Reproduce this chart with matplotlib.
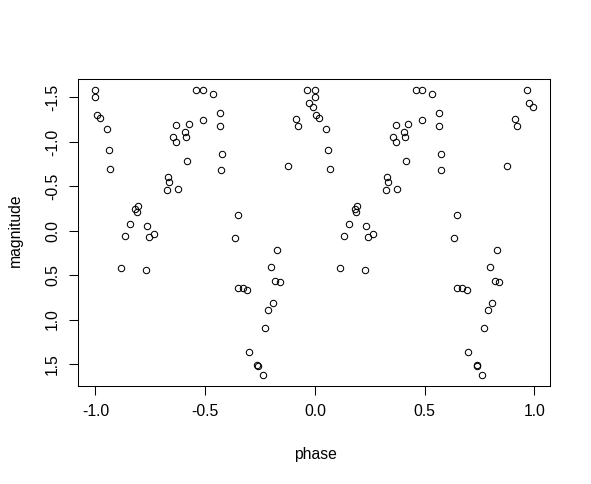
import numpy as np
import matplotlib.pyplot as plt

# folded light curve: phase in [0, 1), plotted twice (phase - 1 and phase)
phase = [0.000, 0.000, 0.005, 0.019, 0.051, 0.060, 0.068, 0.115, 0.133, 0.156,
         0.182, 0.188, 0.193, 0.229, 0.234, 0.243, 0.266, 0.325, 0.329, 0.334,
         0.354, 0.369, 0.369, 0.374, 0.407, 0.412, 0.415, 0.424, 0.460, 0.489,
         0.489, 0.535, 0.565, 0.565, 0.576, 0.574, 0.635, 0.649, 0.649, 0.670,
         0.692, 0.699, 0.738, 0.740, 0.763, 0.772, 0.786, 0.798, 0.808, 0.818,
         0.827, 0.840, 0.877, 0.912, 0.922, 0.964, 0.973, 0.991]
magnitude = [-1.58, -1.51, -1.30, -1.27, -1.15, -0.905, -0.69, 0.417, 0.064, -0.071,
             -0.243, -0.206, -0.277, 0.44, -0.048, 0.072, 0.042, -0.454, -0.60, -0.545,
             -1.055, -1.195, -1.003, -0.466, -1.108, -1.052, -0.79, -1.206, -1.58, -1.58,
             -1.243, -1.537, -1.33, -1.176, -0.86, -0.68, 0.083, -0.18, 0.643, 0.643,
             0.665, 1.364, 1.51, 1.52, 1.62, 1.10, 0.887, 0.406, 0.812, 0.564,
             0.214, 0.575, -0.725, -1.26, -1.176, -1.58, -1.44, -1.39]

plt.rcParams['font.family'] = ['Liberation Sans', 'DejaVu Sans']
plt.rcParams['font.size'] = 11.3

x = np.concatenate([np.array(phase) - 1, np.array(phase)])
y = np.concatenate([magnitude, magnitude])

fig = plt.figure(figsize=(5.91, 4.84), dpi=100)
ax = fig.add_axes([78 / 591, 1 - 386 / 484, (550 - 78) / 591, (386 - 79) / 484])

ax.plot(x, y, 'o', markerfacecolor='none', markeredgecolor='black',
        markersize=4.6, markeredgewidth=0.75)

# R-style 4% padding, magnitude axis inverted
xr = x.max() - x.min()
yr = y.max() - y.min()
ax.set_xlim(x.min() - 0.04 * xr, x.max() + 0.04 * xr)
ax.set_ylim(y.max() + 0.04 * yr, y.min() - 0.04 * yr)

ax.set_xticks([-1.0, -0.5, 0.0, 0.5, 1.0])
ax.set_yticks([-1.5, -1.0, -0.5, 0.0, 0.5, 1.0, 1.5])
ax.set_xticklabels(['-1.0', '-0.5', '0.0', '0.5', '1.0'])
ax.set_yticklabels(['-1.5', '-1.0', '-0.5', '0.0', '0.5', '1.0', '1.5'],
                   rotation=90, va='center')
ax.tick_params(length=6.5, width=0.75, pad=6.5, colors='black')
for s in ax.spines.values():
    s.set_linewidth(0.75)

fig.text(315 / 591, 1 - 455 / 484, 'phase', ha='center', va='center')
fig.text(15 / 591, 1 - 230 / 484, 'magnitude', ha='center', va='center', rotation=90)

fig.savefig('out.png', dpi=100)
